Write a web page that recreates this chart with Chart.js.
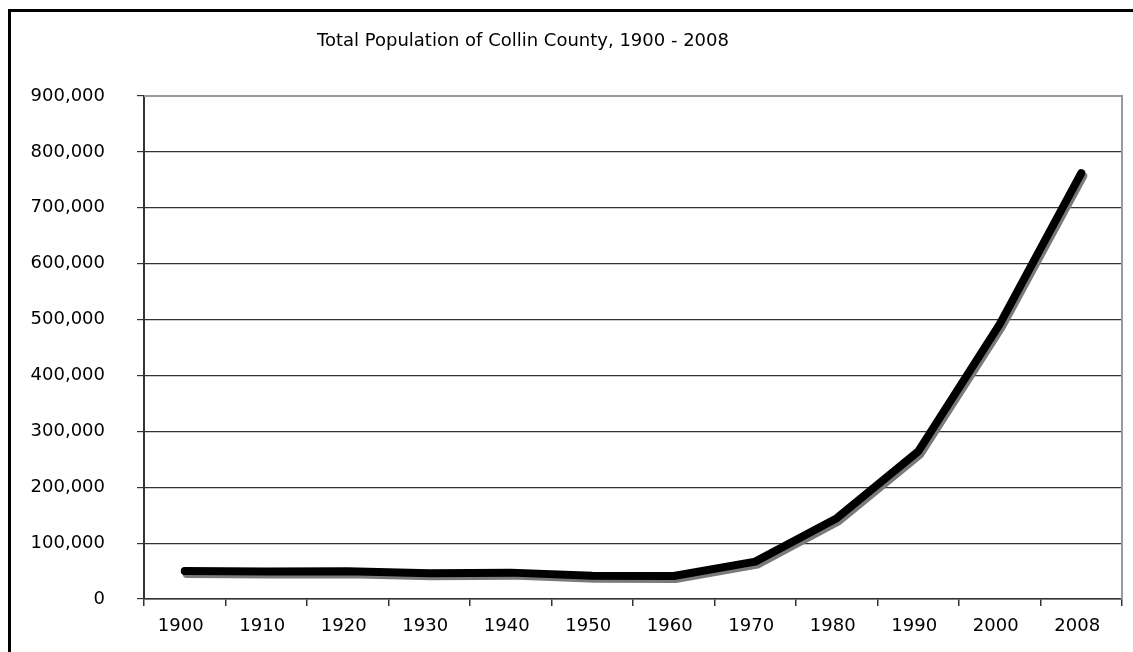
<!DOCTYPE html>
<html>
<head>
<meta charset="utf-8">
<script src="https://cdn.jsdelivr.net/npm/chart.js@4"></script>
<style>
    html, body { margin: 0; padding: 0; background: #fff; overflow: hidden; }
    #wrap { position: relative; width: 1133px; height: 652px; }
    #frame {
        position: absolute; left: 8px; top: 9px; width: 1200px; height: 700px;
        border-left: 3px solid #000; border-top: 3px solid #000;
    }
    #title {
        position: absolute; left: 0; top: 31px; width: 1046px; text-align: center;
        font: 18px Verdana, "DejaVu Sans", sans-serif; line-height: 18px; color: #000;
    }
    canvas { position: absolute; left: 0; top: 0; }
</style>
</head>
<body>
<div id="wrap">
    <div id="frame"></div>
    <canvas id="popChart" width="1133" height="652"></canvas>
    <div id="title">Total Population of Collin County, 1900 - 2008</div>
</div>
<script>
// DATA
const years = ['1900', '1910', '1920', '1930', '1940', '1950', '1960', '1970', '1980', '1990', '2000', '2008'];
const population = [50087, 49021, 49609, 46180, 47190, 41692, 41247, 66920, 144576, 264036, 491675, 762010];
const yMin = 0;
const yMax = 900000;
const yStep = 100000;

const FONT = 'Verdana, "DejaVu Sans", sans-serif';

// gray drop shadow under the line
const lineShadow = {
    id: 'lineShadow',
    beforeDatasetDraw(chart) {
        const c = chart.ctx;
        c.save();
        c.shadowColor = '#7a7a7a';
        c.shadowOffsetX = 2;
        c.shadowOffsetY = 3;
        c.shadowBlur = 0;
    },
    afterDatasetDraw(chart) {
        chart.ctx.restore();
    }
};

// gray frame on the top and right of the plot area
const plotFrame = {
    id: 'plotFrame',
    beforeDatasetsDraw(chart) {
        const { ctx, chartArea: a } = chart;
        ctx.save();
        ctx.strokeStyle = '#9a9a9a';
        ctx.lineWidth = 2;
        ctx.beginPath();
        ctx.moveTo(a.left, a.top);
        ctx.lineTo(a.right, a.top);
        ctx.lineTo(a.right, a.bottom);
        ctx.stroke();
        ctx.restore();
    }
};

const ctx = document.getElementById('popChart').getContext('2d');
const popChart = new Chart(ctx, {
    type: 'line',
    data: {
        labels: years,
        datasets: [{
            label: 'Population',
            data: population,
            borderColor: '#000',
            borderWidth: 8,
            borderCapStyle: 'round',
            borderJoinStyle: 'round',
            pointRadius: 0,
            tension: 0,
            fill: false
        }]
    },
    options: {
        responsive: false,
        animation: false,
        layout: { padding: { top: 96, right: 11, left: 0, bottom: 0 } },
        plugins: {
            legend: { display: false },
            title: { display: false },
            tooltip: { enabled: false }
        },
        scales: {
            x: {
                offset: true,
                grid: { offset: true, drawOnChartArea: false, drawTicks: true, tickLength: 7, color: '#333', lineWidth: 1.5 },
                border: { color: '#333', width: 1.5 },
                ticks: { color: '#000', font: { family: FONT, size: 18 }, padding: 10, labelOffset: -4, maxRotation: 0, autoSkip: false },
                afterFit: s => { s.height = 53; }
            },
            y: {
                min: yMin,
                max: yMax,
                grid: {
                    color: c => c.tick && c.tick.value === yMax ? 'rgba(0,0,0,0)' : '#333',
                    lineWidth: 1.2,
                    tickLength: 7,
                    tickColor: '#333'
                },
                border: { color: '#333', width: 2 },
                ticks: {
                    stepSize: yStep,
                    color: '#000',
                    padding: 32,
                    font: { family: FONT, size: 18 },
                    callback: v => v.toLocaleString('en-US')
                },
                afterFit: s => { s.width = 144; }
            }
        }
    },
    plugins: [lineShadow, plotFrame]
});
</script>
</body>
</html>
